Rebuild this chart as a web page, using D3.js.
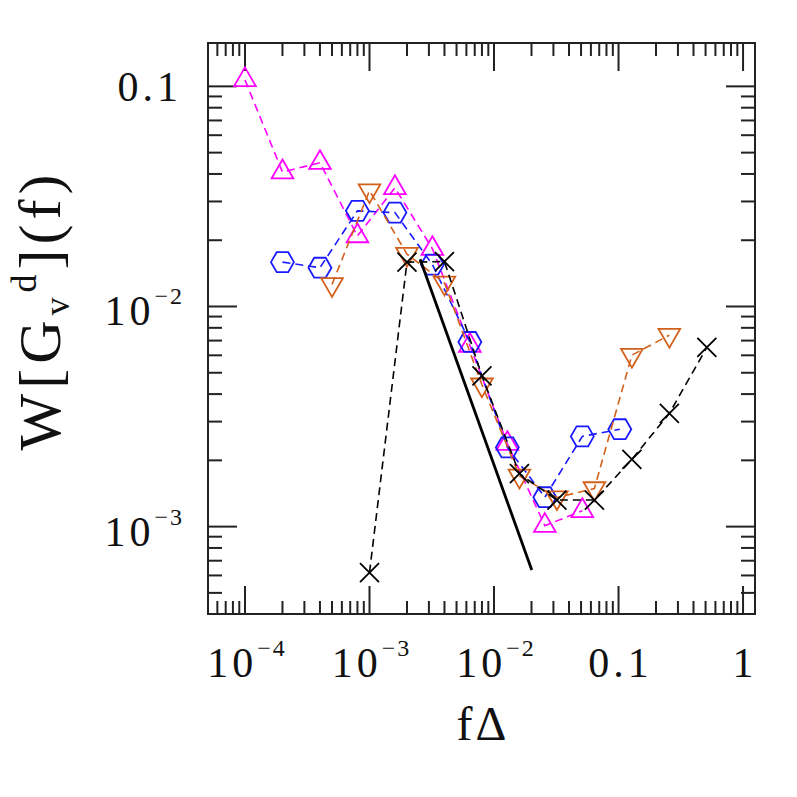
<!DOCTYPE html>
<html>
<head>
<meta charset="utf-8">
<script src="https://cdn.jsdelivr.net/npm/d3@7"></script>
<style>
  body { margin: 0; background: #fff; }
  text { font-family: "Liberation Serif", "DejaVu Serif", serif; fill: #111; }
</style>
</head>
<body>
<div id="chart"></div>
<script>
// data (f*Delta, W)
const magentaX = [1e-4, 2e-4, 4e-4, 8e-4, 1.6e-3, 3.2e-3, 6.4e-3, 1.28e-2, 2.56e-2, 5.12e-2];
const magentaY = [0.107, 0.0408, 0.045, 0.0209, 0.0346, 0.0183, 6.65e-3, 2.38e-3, 1.01e-3, 1.18e-3];

const blueX = [2e-4, 4e-4, 8e-4, 1.6e-3, 3.2e-3, 6.4e-3, 1.28e-2, 2.56e-2, 5.12e-2, 0.1024];
const blueY = [0.0159, 0.0150, 0.0272, 0.0267, 0.0155, 6.9e-3, 2.29e-3, 1.36e-3, 2.57e-3, 2.77e-3];

const orangeX = [5e-4, 1e-3, 2e-3, 4e-3, 8e-3, 0.016, 0.032, 0.064, 0.128, 0.256];
const orangeY = [0.0126, 0.0336, 0.0173, 0.0128, 4.41e-3, 1.70e-3, 1.355e-3, 1.49e-3, 6.01e-3, 7.41e-3];

const blackX = [1e-3, 2e-3, 4e-3, 8e-3, 0.016, 0.032, 0.064, 0.128, 0.256, 0.512];
const blackY = [6.18e-4, 0.0159, 0.016, 4.84e-3, 1.74e-3, 1.32e-3, 1.32e-3, 2.02e-3, 3.27e-3, 6.52e-3];

// solid reference power law segment
const lineX = [2.55e-3, 0.0201];
const lineY = [0.0164, 6.35e-4];

// tick labels
const xTicks = [{v: 1e-4, base: "10", exp: "\u22124"}, {v: 1e-3, base: "10", exp: "\u22123"},
                {v: 1e-2, base: "10", exp: "\u22122"}, {v: 0.1, base: "0.1", exp: ""}, {v: 1, base: "1", exp: ""}];
const yTicks = [{v: 0.1, base: "0.1", exp: ""}, {v: 1e-2, base: "10", exp: "\u22122"}, {v: 1e-3, base: "10", exp: "\u22123"}];

const width = 797, height = 797;
const frame = {left: 208, right: 755, top: 43, bottom: 614};

const svg = d3.select("#chart").append("svg")
  .attr("width", width)
  .attr("height", height);

const x = d3.scaleLog()
  .domain([Math.pow(10, -4.297), Math.pow(10, 0.096)])
  .range([frame.left, frame.right]);

const y = d3.scaleLog()
  .domain([Math.pow(10, -0.803), Math.pow(10, -3.397)])
  .range([frame.top, frame.bottom]);

// minor + major tick values inside a domain
function logTicks(scale) {
  const [a, b] = d3.extent(scale.domain());
  const out = [];
  for (let e = Math.floor(Math.log10(a)); e <= Math.ceil(Math.log10(b)); e++) {
    for (let m = 1; m <= 9; m++) {
      const v = m * Math.pow(10, e);
      if (v >= a * 1.0001 && v <= b * 0.9999) out.push({v: v, major: m === 1});
    }
  }
  return out;
}

const axisColor = "#222";

// frame
svg.append("rect")
  .attr("x", frame.left).attr("y", frame.top)
  .attr("width", frame.right - frame.left).attr("height", frame.bottom - frame.top)
  .attr("fill", "none").attr("stroke", axisColor).attr("stroke-width", 2);

// x ticks (bottom and top, pointing inward)
logTicks(x).forEach(t => {
  const len = t.major ? 28 : 13;
  const px = x(t.v);
  svg.append("line").attr("x1", px).attr("x2", px)
    .attr("y1", frame.bottom).attr("y2", frame.bottom - len)
    .attr("stroke", axisColor).attr("stroke-width", 2);
  svg.append("line").attr("x1", px).attr("x2", px)
    .attr("y1", frame.top).attr("y2", frame.top + len)
    .attr("stroke", axisColor).attr("stroke-width", 2);
});

// y ticks (left and right)
logTicks(y).forEach(t => {
  const len = t.major ? 29 : 14;
  const py = y(t.v);
  svg.append("line").attr("y1", py).attr("y2", py)
    .attr("x1", frame.left).attr("x2", frame.left + len)
    .attr("stroke", axisColor).attr("stroke-width", 2);
  svg.append("line").attr("y1", py).attr("y2", py)
    .attr("x1", frame.right).attr("x2", frame.right - len)
    .attr("stroke", axisColor).attr("stroke-width", 2);
});

// tick label helper: base text with optional superscript exponent
function tickLabel(g, t, anchor) {
  const txt = g.append("text")
    .attr("text-anchor", anchor)
    .style("font-size", "42px");
  txt.append("tspan").style("letter-spacing", "4px").text(t.base);
  if (t.exp) {
    txt.append("tspan")
      .attr("dy", -21)
      .attr("dx", 0)
      .style("font-size", "24px")
      .style("letter-spacing", "2px")
      .text(t.exp);
  }
  return txt;
}

xTicks.forEach(t => {
  const g = svg.append("g").attr("transform", `translate(${x(t.v) + 2},677)`);
  tickLabel(g, t, "middle");
});

yTicks.forEach(t => {
  const g = svg.append("g").attr("transform", `translate(${t.exp ? 184 : 182},${y(t.v) + (t.exp ? 19 : 15)})`);
  tickLabel(g, t, "end");
});

// axis titles
svg.append("text")
  .attr("x", 483).attr("y", 740)
  .attr("text-anchor", "middle")
  .style("font-size", "48px")
  .style("letter-spacing", "3px")
  .text("f\u0394");

const ylab = svg.append("text")
  .attr("transform", "translate(60,310) rotate(-90)")
  .attr("text-anchor", "middle")
  .style("font-size", "60px")
  .style("letter-spacing", "5px");
ylab.append("tspan").text("W[G");
ylab.append("tspan").attr("dy", 9).style("font-size", "36px").text("v");
ylab.append("tspan").attr("dy", -33).style("font-size", "36px").text("d");
ylab.append("tspan").attr("dy", 24).text("](f)");

// series
const series = [
  {xs: magentaX, ys: magentaY, color: "#ff00ff", marker: "triUp"},
  {xs: blueX, ys: blueY, color: "#1a1aff", marker: "hex"},
  {xs: orangeX, ys: orangeY, color: "#d2601a", marker: "triDown"},
  {xs: blackX, ys: blackY, color: "#000000", marker: "cross"}
];

const line = d3.line().x(d => x(d[0])).y(d => y(d[1]));

function markerPath(type) {
  const r = 12.5;
  let pts;
  if (type === "triUp") pts = [-90, 30, 150];
  else if (type === "triDown") pts = [90, 210, 330];
  else if (type === "hex") pts = [0, 60, 120, 180, 240, 300];
  if (pts) {
    const rr = type === "hex" ? 11.5 : r;
    return "M" + pts.map(a => [rr * Math.cos(a * Math.PI / 180), rr * Math.sin(a * Math.PI / 180)].join(",")).join("L") + "Z";
  }
  const h = 9.5;
  return `M${-h},${-h}L${h},${h}M${-h},${h}L${h},${-h}`;
}

series.forEach(s => {
  const pts = s.xs.map((v, i) => [v, s.ys[i]]);
  svg.append("path")
    .datum(pts)
    .attr("d", line)
    .attr("fill", "none")
    .attr("stroke", s.color)
    .attr("stroke-width", 1.6)
    .attr("stroke-dasharray", "8,5");
  svg.selectAll(null)
    .data(pts)
    .enter()
    .append("path")
    .attr("transform", d => `translate(${x(d[0])},${y(d[1])})`)
    .attr("d", markerPath(s.marker))
    .attr("fill", "none")
    .attr("stroke", s.color)
    .attr("stroke-width", 1.8);
});

// solid line
svg.append("path")
  .datum(lineX.map((v, i) => [v, lineY[i]]))
  .attr("d", line)
  .attr("fill", "none")
  .attr("stroke", "#000")
  .attr("stroke-width", 2.8);
</script>
</body>
</html>
